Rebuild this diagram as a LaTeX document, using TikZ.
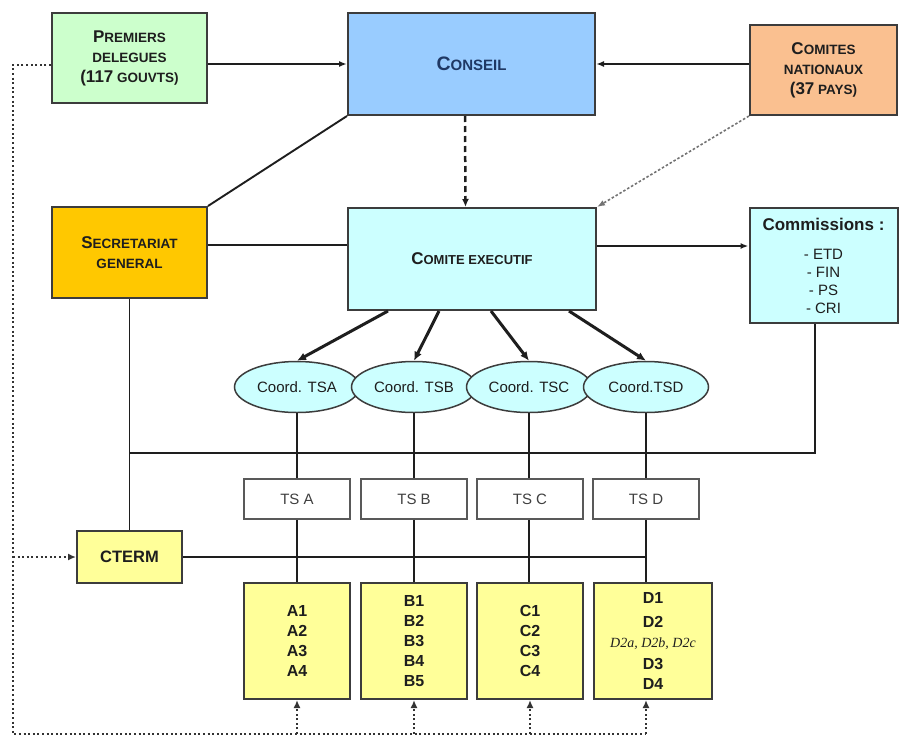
\documentclass[tikz,border=0pt]{standalone}
\usepackage{fontspec}
\setmainfont{Liberation Sans}
\newfontfamily\serifit{Liberation Serif}
\usetikzlibrary{arrows.meta,shapes.geometric}
\definecolor{bordergray}{HTML}{3C3C3C}
\definecolor{greenbox}{HTML}{CCFFCC}
\definecolor{bluebox}{HTML}{99CCFF}
\definecolor{orangebox}{HTML}{FAC090}
\definecolor{goldbox}{HTML}{FFC800}
\definecolor{cyanbox}{HTML}{CCFFFF}
\definecolor{yellowbox}{HTML}{FFFF99}
\definecolor{navytext}{HTML}{1F3864}
\definecolor{inktext}{HTML}{1E1E1E}
\newcommand{\capl}[2][17]{{\fontsize{#1}{#1}\selectfont #2}}
\begin{document}
\begin{tikzpicture}[
        x=1pt, y=-1pt,
        box/.style={draw=bordergray, line width=2pt, inner sep=0pt, align=center, text=inktext,
            font=\bfseries\fontsize{13.5}{20}\selectfont},
        grpbox/.style={box, fill=yellowbox, minimum width=106, minimum height=116,
            font=\bfseries\fontsize{16}{20}\selectfont},
        tsbox/.style={draw=bordergray!85, line width=1.8pt, fill=white, inner sep=0pt,
            minimum width=106, minimum height=40, text=inktext!85, font=\fontsize{15}{15}\selectfont},
        coord/.style={ellipse, draw=bordergray, line width=1.5pt, fill=cyanbox, inner sep=0pt,
            minimum width=125, minimum height=51, text=inktext, font=\fontsize{15}{15}\selectfont},
        link/.style={draw=inktext, line width=1.9pt},
        arrow/.style={link, -{Latex[length=8pt,width=6pt]}},
        thickarrow/.style={draw=inktext, line width=3pt, -{Latex[length=9pt,width=8pt]}},
        dasharrow/.style={draw=inktext, line width=2.5pt, dash pattern=on 6pt off 4pt, -{Latex[length=8pt,width=7pt]}},
        dotgray/.style={draw=black!55, line width=1.6pt, dash pattern=on 2.5pt off 2pt, -{Latex[length=8pt,width=6pt]}},
        dotline/.style={draw=black!80, line width=2.4pt, dash pattern=on 2pt off 2.6pt},
        dotarrow/.style={dotline, -{Latex[length=8pt,width=7pt]}},
    ]
    \useasboundingbox (0,0) rectangle (899,736);
    \node[box, fill=greenbox, minimum width=155, minimum height=90] (premiers) at (129.5,58)
        {\capl{P}REMIERS\\DELEGUES\\\capl{(117} GOUVTS)};
    \node[box, fill=bluebox, text=navytext, minimum width=247, minimum height=102,
        font=\bfseries\fontsize{15}{15}\selectfont] (conseil) at (471.5,64) {\capl[19.5]{C}ONSEIL};
    \node[box, fill=orangebox, minimum width=147, minimum height=90] (comnat) at (823.5,70)
        {\capl{C}OMITES\\NATIONAUX\\\capl{(37} PAYS)};
    \node[box, fill=goldbox, minimum width=155, minimum height=91] (secgen) at (129.5,252.5)
        {\capl{S}ECRETARIAT\\GENERAL};
    \node[box, fill=cyanbox, minimum width=248, minimum height=102,
        font=\bfseries\fontsize{13}{16}\selectfont] (comex) at (472,259) {\capl{C}OMITE EXECUTIF};
    \node[box, fill=cyanbox, minimum width=148, minimum height=115,
        font=\fontsize{15}{18}\selectfont] (commis) at (823.5,265.5)
        {{\bfseries\fontsize{17}{18}\selectfont Commissions :}\\[11pt]- ETD\\- FIN\\- PS\\- CRI};
    \node[coord] (ctsa) at (297,387) {Coord. TSA};
    \node[coord] (ctsb) at (414,387) {Coord. TSB};
    \node[coord] (ctsc) at (529,387) {Coord. TSC};
    \node[coord] (ctsd) at (646,387) {Coord.TSD};
    \node[tsbox] (tsa) at (297,499) {TS A};
    \node[tsbox] (tsb) at (414,499) {TS B};
    \node[tsbox] (tsc) at (530,499) {TS C};
    \node[tsbox] (tsd) at (646,499) {TS D};
    \node[box, fill=yellowbox, minimum width=105, minimum height=52,
        font=\bfseries\fontsize{16.5}{20}\selectfont] (cterm) at (129.5,557) {CTERM};
    \node[grpbox] (grpa) at (297,641) {A1\\A2\\A3\\A4};
    \node[grpbox] (grpb) at (414,641) {B1\\B2\\B3\\B4\\B5};
    \node[grpbox] (grpc) at (530,641) {C1\\C2\\C3\\C4};
    \node[grpbox, minimum width=118] (grpd) at (653,641)
        {D1\\[4pt]D2\\{\serifit\itshape\mdseries\fontsize{14}{20}\selectfont D2a, D2b, D2c}\\[2pt]D3\\D4};
    \coordinate (looptop) at (13,65);
    \coordinate (loopbot) at (13,734);
    \coordinate (busleft) at (129.5,453);
    \draw[arrow] (premiers.east |- conseil) -- (conseil.west);
    \draw[arrow] (comnat.west |- conseil) -- (conseil.east);
    \draw[link] (secgen.north east) -- (conseil.south west);
    \draw[dasharrow] ([xshift=-6.5pt]conseil.south) -- ([xshift=-6.5pt]comex.north);
    \draw[dotgray] (comnat.south west) -- (comex.north east);
    \draw[link] ([yshift=7.5pt]secgen.east) -- ([yshift=7.5pt]secgen.east -| comex.west);
    \draw[arrow] ([yshift=13pt]comex.east) -- ([yshift=13pt]comex.east -| commis.west);
    \draw[thickarrow] ([xshift=-84pt]comex.south) -- (ctsa.north);
    \draw[thickarrow] ([xshift=-33pt]comex.south) -- (ctsb.north);
    \draw[thickarrow] ([xshift=19pt]comex.south) -- (ctsc.north);
    \draw[thickarrow] ([xshift=97pt]comex.south) -- (ctsd.north);
    \draw[link] ([xshift=-8.5pt]commis.south) |- (busleft);
    \draw[link] (secgen.south) -- (cterm.north);
    \foreach \c/\t/\g in {ctsa/tsa/grpa, ctsb/tsb/grpb, ctsc/tsc/grpc, ctsd/tsd/grpd}{
        \draw[link] (\c.south) -- (\c |- \t.north);
        \draw[link] (\c |- \t.south) -- (\c |- \g.north);
    }
    \draw[link] (cterm.east) -- (cterm.east -| tsd);
    \draw[dotline] (premiers.west |- looptop) -- (looptop) -- (loopbot) -- (loopbot -| tsd);
    \draw[dotarrow] (looptop |- cterm) -- (cterm.west);
    \foreach \t/\g in {tsa/grpa, tsb/grpb, tsc/grpc, tsd/grpd}
        \draw[dotarrow] (loopbot -| \t) -- (\t |- \g.south);
\end{tikzpicture}
\end{document}
